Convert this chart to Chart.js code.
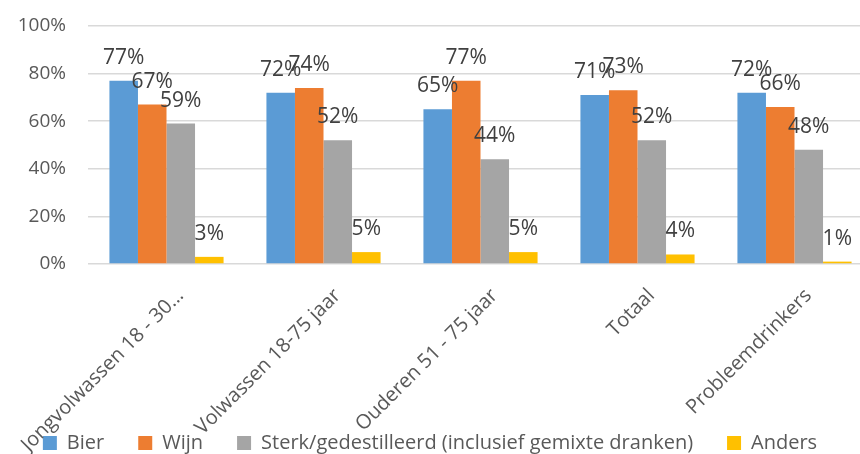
<!DOCTYPE html>
<html lang="nl">
<head>
    <meta charset="UTF-8">
    <script src="https://cdn.jsdelivr.net/npm/chart.js"></script>
    <title>Drankvoorkeur</title>
    <style>
        body { margin: 0; background: #fff; }
        #wrap { width: 860px; height: 454px; }
    </style>
</head>
<body>
<div id="wrap">
    <canvas id="myChart" width="860" height="454"></canvas>
</div>

<script>
    const categories = [
        'Jongvolwassen 18 - 30\u2026',
        'Volwassen 18-75 jaar',
        'Ouderen 51 - 75 jaar',
        'Totaal',
        'Probleemdrinkers'
    ];

    const bier = [77, 72, 65, 71, 72];
    const wijn = [67, 74, 77, 73, 66];
    const sterk = [59, 52, 44, 52, 48];
    const anders = [3, 5, 5, 4, 1];

    const yTicks = [0, 20, 40, 60, 80, 100];

    const fontFamily = "'Open Sans', 'Noto Sans', sans-serif";

    // labels boven de staven
    const valueLabels = {
        id: 'valueLabels',
        afterDatasetsDraw(chart) {
            const ctx = chart.ctx;
            ctx.save();
            ctx.font = '21px ' + fontFamily;
            ctx.fillStyle = '#404040';
            ctx.textAlign = 'center';
            ctx.textBaseline = 'alphabetic';
            chart.data.datasets.forEach((ds, i) => {
                const meta = chart.getDatasetMeta(i);
                meta.data.forEach((bar, j) => {
                    ctx.fillText(ds.data[j] + '%', bar.x, bar.y - 17);
                });
            });
            ctx.restore();
        }
    };

    // legenda iets lager, as-labels over de legenda, plotvlak loopt iets voorbij de rand
    const layoutTweak = {
        id: 'layoutTweak',
        afterLayout(chart) {
            chart.legend.top += 9;
            chart.legend.bottom += 9;
            const x = chart.scales.x;
            x.bottom = chart.height;
            x.right += 13;
            x.width += 13;
            x.configure();
        }
    };

    const data = {
        labels: categories,
        datasets: [
            { label: 'Bier', data: bier, backgroundColor: '#5b9bd5' },
            { label: 'Wijn', data: wijn, backgroundColor: '#ed7d31' },
            { label: 'Sterk/gedestilleerd (inclusief gemixte dranken)', data: sterk, backgroundColor: '#a5a5a5' },
            { label: 'Anders', data: anders, backgroundColor: '#ffc000' }
        ]
    };

    const config = {
        type: 'bar',
        data: data,
        options: {
            responsive: false,
            animation: false,
            datasets: {
                bar: { categoryPercentage: 0.727, barPercentage: 1.0 }
            },
            layout: { padding: { top: 26, right: 0, left: 0, bottom: 0 } },
            plugins: {
                tooltip: { enabled: false },
                legend: {
                    position: 'bottom',
                    labels: {
                        boxWidth: 14,
                        boxHeight: 14,
                        padding: 34,
                        color: '#595959',
                        font: { family: fontFamily, size: 20 }
                    }
                }
            },
            scales: {
                x: {
                    grid: { display: false },
                    border: { display: false },
                    ticks: {
                        color: '#595959',
                        font: { family: fontFamily, size: 20 },
                        maxRotation: 45,
                        minRotation: 45,
                        autoSkip: false,
                        padding: 12,
                        labelOffset: 14
                    },
                    afterFit(scale) {
                        scale.height = 126;
                        scale.paddingLeft = 0;
                        scale.paddingRight = 0;
                    }
                },
                y: {
                    min: 0,
                    max: 100,
                    afterBuildTicks(scale) {
                        scale.ticks = yTicks.map(v => ({ value: v }));
                    },
                    grid: { color: '#d9d9d9', lineWidth: 1.5, drawTicks: false },
                    border: { display: false },
                    ticks: {
                        color: '#595959',
                        font: { family: fontFamily, size: 19 },
                        padding: 22,
                        callback: v => v + '%'
                    },
                    afterFit(scale) {
                        scale.width = 88;
                        scale.paddingTop = 0;
                        scale.paddingBottom = 0;
                    }
                }
            }
        },
        plugins: [valueLabels, layoutTweak]
    };

    const myChart = new Chart(document.getElementById('myChart'), config);
</script>
</body>
</html>
